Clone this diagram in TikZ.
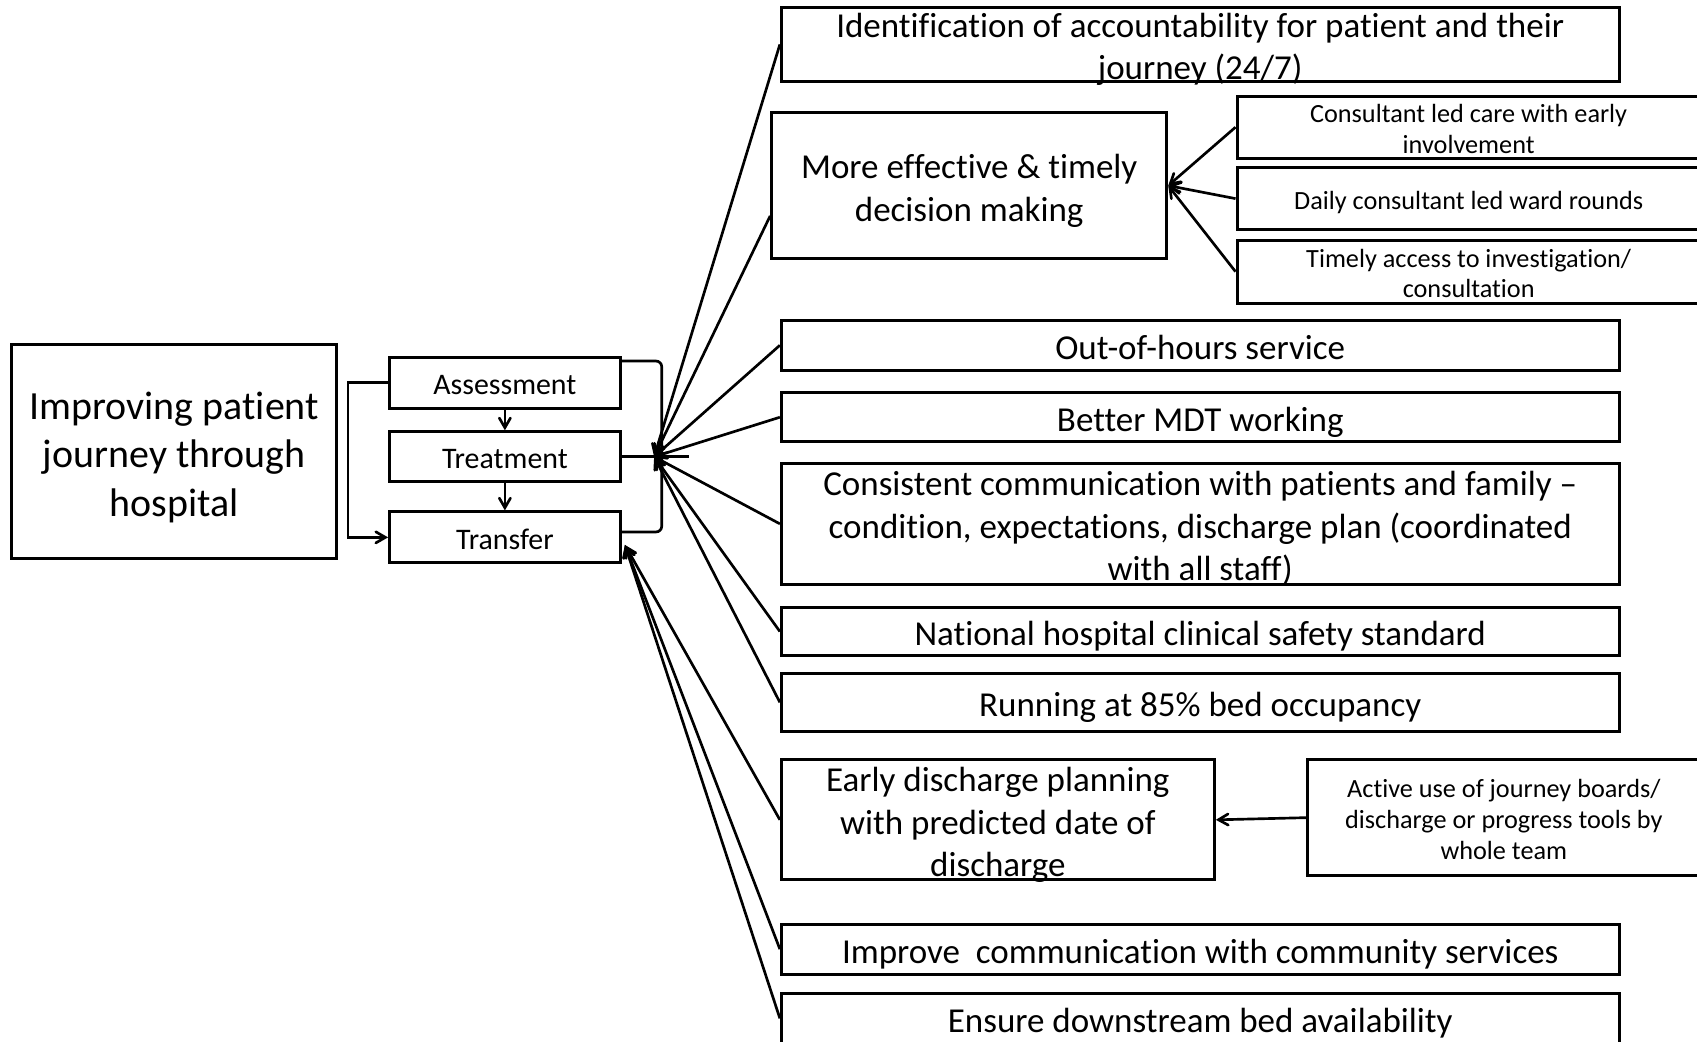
\documentclass[tikz,border=0pt]{standalone}
\usepackage{fontspec}
\setmainfont[Ligatures={NoCommon}]{Carlito}
\usepackage{tikz}
\usetikzlibrary{arrows}
\newcommand{\firstline}{\rule{0pt}{1.1em}} % strut for the first of several lines
\tikzset{
	->, %makes the edges directed
	>=angle 60, % open arrow heads
	box/.style={draw, line width=1.6pt, align=center, inner sep=0pt,
		execute at begin node={\rule[-0.28em]{0pt}{1.38em}},
		execute at end node={\rule[-0.28em]{0pt}{0pt}}}, %every box of the chart
	mainbox/.style={box, font=\fontsize{21}{25.5}\selectfont},
	bigbox/.style={box, font=\fontsize{18.4}{22.2}\selectfont},
	stage/.style={box, font=\fontsize{15.7}{18}\selectfont, minimum width=4.26cm},
	subbox/.style={box, font=\fontsize{13.8}{16.2}\selectfont},
}
\begin{document}
\begin{tikzpicture}[line width=1.4pt]
	\useasboundingbox (0,0) rectangle (31.36,-19.24);
	% left part
	\node (main) at (3.22,-8.34) [mainbox, minimum width=6cm, minimum height=3.96cm] {\firstline Improving patient\\journey through\\hospital};
	\node (assess) at (9.33,-7.07) [stage, minimum height=0.94cm] {Assessment};
	\node (treat) at (9.33,-8.44) [stage, minimum height=0.92cm] {Treatment};
	\node (transfer) at (9.33,-9.93) [stage, minimum height=0.94cm] {Transfer};
	% right column
	\node (ident) at (22.18,-0.82) [bigbox, inner ysep=-7.2pt, minimum width=15.48cm, minimum height=1.36cm] {\firstline Identification of accountability for patient and their\\journey (24/7)};
	\node (eff) at (17.91,-3.43) [bigbox, minimum width=7.3cm, minimum height=2.7cm] {\firstline More effective \& timely\\decision making};
	\node (care) at (27.14,-2.35) [subbox, inner ysep=-3.45pt, minimum width=8.56cm, minimum height=1.14cm] {\firstline Consultant led care with early\\involvement};
	\node (daily) at (27.14,-3.67) [subbox, minimum width=8.56cm, minimum height=1.14cm] {Daily consultant led ward rounds};
	\node (timely) at (27.14,-5.02) [subbox, inner ysep=-3.3pt, minimum width=8.56cm, minimum height=1.16cm] {\firstline Timely access to investigation/\\consultation};
	\node (hours) at (22.18,-6.38) [bigbox, minimum width=15.48cm, minimum height=0.92cm] {Out-of-hours service};
	\node (mdt) at (22.18,-7.71) [bigbox, minimum width=15.48cm, minimum height=0.9cm] {Better MDT working};
	\node (comm) at (22.18,-9.68) [bigbox, inner ysep=-5.8pt, minimum width=15.48cm, minimum height=2.24cm] {\firstline Consistent communication with patients and family –\\condition, expectations, discharge plan (coordinated\\with all staff)};
	\node (natl) at (22.18,-11.67) [bigbox, minimum width=15.48cm, minimum height=0.9cm] {National hospital clinical safety standard};
	\node (occ) at (22.18,-12.98) [bigbox, minimum width=15.48cm, minimum height=1.08cm] {Running at 85\% bed occupancy};
	\node (early) at (18.44,-15.15) [bigbox, inner ysep=-6.06pt, minimum width=8cm, minimum height=2.22cm] {\firstline Early discharge planning\\with predicted date of\\discharge};
	\node (active) at (27.79,-15.11) [subbox, minimum width=7.26cm, minimum height=2.14cm] {\firstline Active use of journey boards/\\discharge or progress tools by\\whole team};
	\node (improve) at (22.18,-17.54) [bigbox, minimum width=15.48cm, minimum height=0.92cm] {Improve\ \ communication with community services};
	\node (ensure) at (22.18,-18.82) [bigbox, minimum width=15.48cm, minimum height=0.92cm] {Ensure downstream bed availability};
	% where the arrows meet
	\coordinate (hub) at ([xshift=0.6cm]treat.east);
	\coordinate (low) at ([xshift=0.06cm,yshift=-0.14cm]transfer.east);
	% stages
	\draw (assess) -- (treat);
	\draw (treat) -- (transfer);
	\draw (assess.west) -- ++(-0.74,0) |- (transfer.west);
	\draw[-, rounded corners=3pt] ([yshift=-0.1cm]assess.north east) -- ++(0.74,0) |- ([yshift=0.1cm]transfer.east);
	\draw[-] (treat.east) -- ++(1.24,0);
	% inputs
	\draw (ident.west) -- (hub);
	\draw ([yshift=-0.56cm]eff.west) -- (hub);
	\draw (hours.west) -- (hub);
	\draw (mdt.west) -- (hub);
	\draw (comm.west) -- (hub);
	\draw (natl.west) -- (hub);
	\draw (occ.west) -- (hub);
	\draw (early.west) -- (low);
	\draw (improve.west) -- (low);
	\draw (ensure.west) -- (low);
	\draw (care.west) -- (eff.east);
	\draw (daily.west) -- (eff.east);
	\draw (timely.west) -- (eff.east);
	\draw (active.west) -- (early.east);
\end{tikzpicture}
\end{document}
